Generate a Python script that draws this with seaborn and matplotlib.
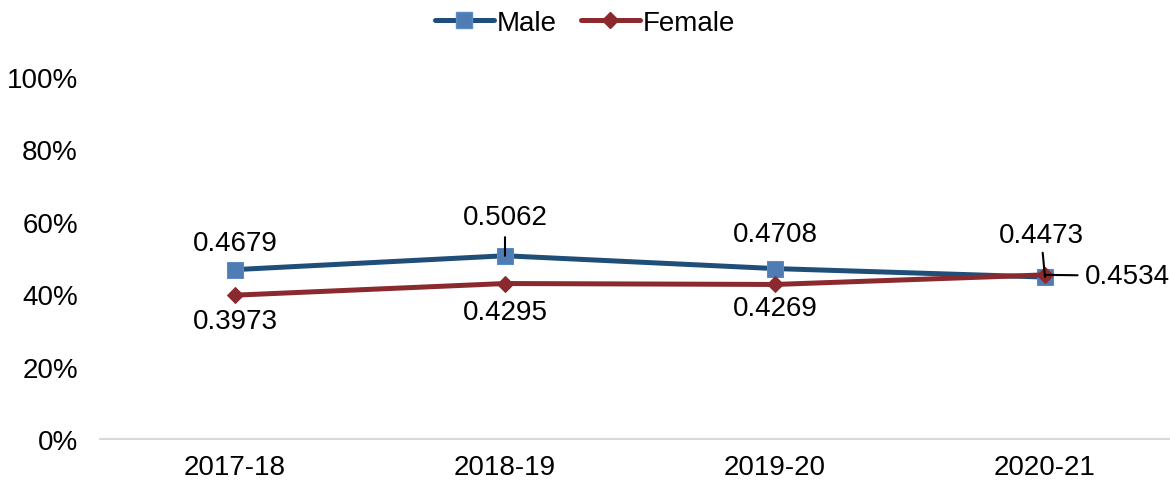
import matplotlib
matplotlib.use("Agg")
import matplotlib.pyplot as plt
import seaborn as sns
import pandas as pd
from matplotlib.ticker import PercentFormatter

years = ["2017-18", "2018-19", "2019-20", "2020-21"]
male = [0.4679, 0.5062, 0.4708, 0.4473]
female = [0.3973, 0.4295, 0.4269, 0.4534]

df = pd.DataFrame({"Year": years * 2,
                   "Share": male + female,
                   "Sex": ["Male"] * 4 + ["Female"] * 4})

sns.set_style("white")
plt.rcParams["font.family"] = ["Liberation Sans", "DejaVu Sans"]
plt.rcParams["text.color"] = "black"

fig = plt.figure(figsize=(11.7, 4.81), dpi=100)
# y: 0 at px 440, 100% at px 78
ax = fig.add_axes([100 / 1170, 41 / 481, 1080 / 1170, (440 - 41) / 481])

palette = {"Male": "#1F4E79", "Female": "#8B2A2E"}
sns.lineplot(data=df, x="Year", y="Share", hue="Sex", palette=palette,
             style="Sex", markers={"Male": "s", "Female": "D"}, dashes=False,
             linewidth=3.6, markersize=9, ax=ax, legend=False)

# marker colours
ax.lines[0].set_markerfacecolor("#4F7DB3")
ax.lines[0].set_markeredgecolor("#5B8BC6")
ax.lines[0].set_markersize(11)
ax.lines[1].set_markerfacecolor("#8B2A2E")
ax.lines[1].set_markeredgecolor("#8B2A2E")
ax.lines[1].set_markersize(8)

ax.set_xlim(-0.5, 3.5)
ax.set_ylim(0, (440 - 41) / 362)
ax.set_yticks([0, 0.2, 0.4, 0.6, 0.8, 1.0])
ax.yaxis.set_major_formatter(PercentFormatter(1.0, decimals=0))
ax.set_xlabel("")
ax.set_ylabel("")
for s in ["top", "right", "left"]:
    ax.spines[s].set_visible(False)
ax.spines["bottom"].set_color("#D9D9D9")
ax.spines["bottom"].set_linewidth(1.5)

fs = 20
ax.tick_params(axis="both", labelsize=fs, length=0, colors="black")
ax.tick_params(axis="y", pad=16)
ax.tick_params(axis="x", pad=11)

leader = dict(arrowstyle="-", color="black", lw=1.5, shrinkA=3, shrinkB=0)

# label offsets in pixels (above for Male, below for Female)
male_off = [27, 39, 35]
female_off = [26, 28, 24]
for i in range(3):
    ax.annotate(f"{male[i]:.4f}", (i, male[i]), xytext=(0, male_off[i]),
                textcoords="offset pixels", ha="center", va="center", fontsize=fs,
                arrowprops=leader if i == 1 else None)
    ax.annotate(f"{female[i]:.4f}", (i, female[i]), xytext=(0, -female_off[i]),
                textcoords="offset pixels", ha="center", va="center", fontsize=fs)

# last point: leader lines
ax.annotate(f"{male[3]:.4f}", (3, male[3]), xytext=(-4, 42), textcoords="offset pixels",
            ha="center", va="center", fontsize=fs,
            arrowprops=dict(arrowstyle="-", color="black", lw=1.5,
                            shrinkA=1, shrinkB=0))
ax.annotate(f"{female[3]:.4f}", (3, female[3]), xytext=(40, -1), textcoords="offset pixels",
            ha="left", va="center", fontsize=fs,
            arrowprops=dict(arrowstyle="-", color="black", lw=1.5,
                            shrinkA=3, shrinkB=0))

handles = [plt.Line2D([], [], color="#1F4E79", lw=3.6, marker="s", markersize=11,
                      markerfacecolor="#4F7DB3", markeredgecolor="#5B8BC6"),
           plt.Line2D([], [], color="#8B2A2E", lw=3.6, marker="D", markersize=8,
                      markerfacecolor="#8B2A2E", markeredgecolor="#8B2A2E")]
fig.legend(handles, ["Male", "Female"], loc="center", bbox_to_anchor=(0.5, 1 - 24 / 481),
           ncol=2, frameon=False, fontsize=fs, handlelength=2.1, handletextpad=0.1,
           columnspacing=0.9)

fig.savefig("out.png", dpi=100)
